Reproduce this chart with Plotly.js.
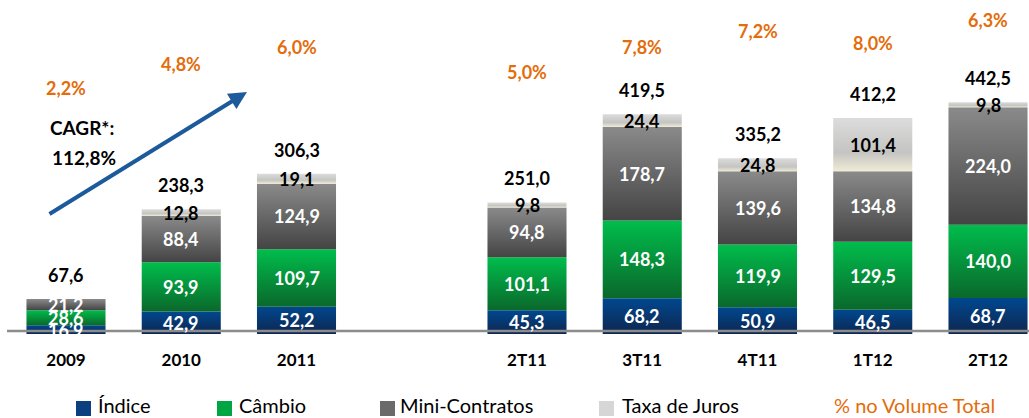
<!DOCTYPE html>
<html><head><meta charset="utf-8">
<script src="https://cdn.plot.ly/plotly-3.0.1.min.js"></script>
<style>html,body{margin:0;padding:0;background:#fff}#chart{width:1029px;height:418px}</style>
</head><body><div id="chart"></div>
<script>
// ---------- data ----------
const periods  = ['2009','2010','2011','2T11','3T11','4T11','1T12','2T12'];
const indice   = [16.9, 42.9, 52.2, 45.3, 68.2, 50.9, 46.5, 68.7];
const cambio   = [28.6, 93.9, 109.7, 101.1, 148.3, 119.9, 129.5, 140.0];
const mini     = [21.2, 88.4, 124.9, 94.8, 178.7, 139.6, 134.8, 224.0];
const taxa     = [0.9, 12.8, 19.1, 9.8, 24.4, 24.8, 101.4, 9.8];
const totals   = [67.6, 238.3, 306.3, 251.0, 419.5, 335.2, 412.2, 442.5];
const pctTotal = ['2,2%','4,8%','6,0%','5,0%','7,8%','7,2%','8,0%','6,3%'];
const cagrText = ['CAGR*:', '112,8%'];
const seriesNames = ['Índice','Câmbio','Mini-Contratos','Taxa de Juros'];
const pctLegendText = '% no Volume Total';

// ---------- layout helpers ----------
const W = 1029, PLOT_H = 334;
const FONT = 'Lato, "Open Sans", sans-serif';
const ORANGE = '#e46c0a';
const series = [
  {name: seriesNames[0], vals: indice, scale: [[0,'#0e2650'],[1,'#00488f']], txt: '#ffffff', swatch: '#0b3f80'},
  {name: seriesNames[1], vals: cambio, scale: [[0,'#0a682b'],[1,'#00bd4c']], txt: '#ffffff', swatch: '#00a544'},
  {name: seriesNames[2], vals: mini,   scale: [[0,'#444444'],[1,'#8a8a8a']], txt: '#ffffff', swatch: '#6a6a6a'},
  {name: seriesNames[3], vals: taxa,   scale: [[0,'#efebd6'],[0.35,'#c4c4c2'],[1,'#dcdcdc']], txt: '#000000', swatch: '#d6d6d6'}
];
const xPos = periods.map((p, i) => i < 3 ? i : i + 1);   // empty slot between annual and quarterly
const HW = 0.343;
const fmt = v => v.toFixed(1).replace('.', ',');
const py2paper = py => (PLOT_H - py) / PLOT_H;
const px2paper = px => px / W;

const traces = [];
const annotations = [];
const cum = periods.map(() => 0);

series.forEach(s => {
  s.vals.forEach((v, i) => {
    const b = cum[i], t = cum[i] + v, x = xPos[i];
    traces.push({
      type: 'scatter', mode: 'lines', fill: 'toself',
      x: [x - HW, x + HW, x + HW, x - HW, x - HW],
      y: [b, b, t, t, b],
      line: {width: 0, color: 'rgba(0,0,0,0)'},
      fillcolor: s.swatch,
      fillgradient: {type: 'vertical', start: b, stop: t, colorscale: s.scale},
      name: s.name, hoverinfo: 'text', text: s.name + ' ' + periods[i] + ': ' + fmt(v),
      hoveron: 'fills', showlegend: false
    });
    if (v >= 5) {
      annotations.push({
        x: x, y: (b + t) / 2, xref: 'x', yref: 'y', text: fmt(v), showarrow: false,
        font: {family: FONT, size: 18, color: s.txt, weight: 'bold'},
        xanchor: 'center', yanchor: 'middle'
      });
    }
    cum[i] = t;
  });
});

// totals above bars
totals.forEach((v, i) => {
  annotations.push({
    x: xPos[i], y: v, xref: 'x', yref: 'y', text: fmt(v), showarrow: false, yshift: 24,
    font: {family: FONT, size: 18, color: '#000', weight: 'bold'}, xanchor: 'center', yanchor: 'middle'
  });
});

// share of total volume (hand-placed heights, in pixels from top)
const pctPy = [88, 64, 47, 72, 47, 31, 43, 20];
pctTotal.forEach((t, i) => {
  annotations.push({
    x: xPos[i], y: py2paper(pctPy[i]), xref: 'x', yref: 'paper', text: t, showarrow: false,
    font: {family: FONT, size: 18, color: ORANGE, weight: 'bold'}, xanchor: 'center', yanchor: 'middle'
  });
});

// CAGR text
annotations.push({x: px2paper(82), y: py2paper(127), xref: 'paper', yref: 'paper', text: cagrText[0], showarrow: false,
  font: {family: FONT, size: 19, color: '#000', weight: 'bold'}, xanchor: 'center', yanchor: 'middle'});
annotations.push({x: px2paper(84), y: py2paper(157), xref: 'paper', yref: 'paper', text: cagrText[1], showarrow: false,
  font: {family: FONT, size: 19, color: '#000', weight: 'bold'}, xanchor: 'center', yanchor: 'middle'});
// growth arrow
annotations.push({x: px2paper(247), y: py2paper(92), xref: 'paper', yref: 'paper', text: '', showarrow: true,
  ax: 48 - 247, ay: 215 - 92, arrowcolor: '#1d5a9c', arrowwidth: 4, arrowhead: 2, arrowsize: 0.9, standoff: 0});

// manual legend
const shapes = [];
const legX = [76, 217, 380, 599];
const legTextX = [96, 237, 398, 620];
series.forEach((s, k) => {
  shapes.push({type: 'rect', xref: 'paper', yref: 'paper', x0: px2paper(legX[k]), x1: px2paper(legX[k] + 15),
    y0: py2paper(416), y1: py2paper(401), fillcolor: s.swatch, line: {width: 0}});
  annotations.push({x: px2paper(legTextX[k]), y: py2paper(405), xref: 'paper', yref: 'paper', text: s.name, showarrow: false,
    font: {family: FONT, size: 20, color: '#000'}, xanchor: 'left', yanchor: 'middle'});
});
annotations.push({x: px2paper(832), y: py2paper(405), xref: 'paper', yref: 'paper', text: pctLegendText, showarrow: false,
  font: {family: FONT, size: 20, color: ORANGE}, xanchor: 'left', yanchor: 'middle'});

// baseline
shapes.push({type: 'line', xref: 'paper', yref: 'paper', x0: px2paper(7), x1: 1, y0: py2paper(331), y1: py2paper(331),
  line: {color: '#8c8c8c', width: 2.5}, layer: 'above'});

const X0 = -66 / 115.25;
const layout = {
  width: W, height: 418,
  margin: {l: 0, r: 0, t: 0, b: 84, pad: 0},
  paper_bgcolor: '#fff', plot_bgcolor: '#fff',
  showlegend: false,
  xaxis: {range: [X0, X0 + W / 115.25], tickvals: xPos, ticktext: periods, showgrid: false, zeroline: false,
    showline: false, ticks: '', ticklabelstandoff: 14, fixedrange: true,
    tickfont: {family: FONT, size: 17, color: '#000', weight: 'bold'}},
  yaxis: {range: [0, PLOT_H / 0.524], visible: false, fixedrange: true},
  annotations: annotations, shapes: shapes
};
Plotly.newPlot('chart', traces, layout, {displayModeBar: false});
</script></body></html>
